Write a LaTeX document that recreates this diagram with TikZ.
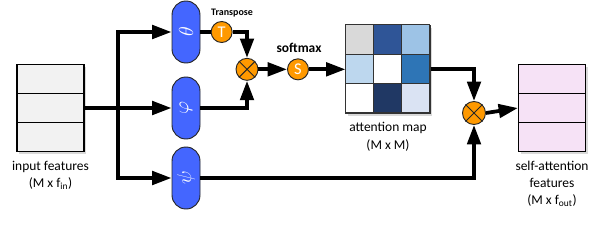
\documentclass[tikz,border=0pt]{standalone}
\usepackage{fontspec}
\setsansfont{Carlito}
\usetikzlibrary{arrows.meta,positioning,shadows,calc}
\definecolor{pillblue}{RGB}{68,102,255}
\definecolor{opsorange}{RGB}{255,153,0}
\definecolor{infill}{RGB}{242,242,242}
\definecolor{outfill}{RGB}{246,226,246}
\definecolor{cellA}{RGB}{217,217,217}
\definecolor{cellB}{RGB}{47,85,151}
\definecolor{cellC}{RGB}{157,195,230}
\definecolor{cellD}{RGB}{189,215,238}
\definecolor{cellE}{RGB}{255,255,255}
\definecolor{cellF}{RGB}{46,117,182}
\definecolor{cellG}{RGB}{255,255,255}
\definecolor{cellH}{RGB}{32,56,100}
\definecolor{cellI}{RGB}{218,227,243}

\begin{document}
\begin{tikzpicture}[
  conn/.style={line width=3.2pt, line join=miter, -{Triangle[length=5.8mm,width=4mm]}},
  wire/.style={line width=3.2pt},
  feat/.style={draw=black, line width=0.9pt, minimum width=2.01cm, minimum height=2.61cm, inner sep=0pt,
    drop shadow={opacity=0.3, shadow xshift=0.7mm, shadow yshift=-0.7mm}},
  pill/.style={draw=black!85, line width=0.8pt, fill=pillblue, rounded corners=0.42cm, minimum width=0.84cm,
    minimum height=1.86cm, inner sep=0pt, text=white, font=\fontsize{16}{18}\selectfont},
  op/.style={circle, draw=black!85, line width=0.8pt, fill=opsorange, minimum size=0.63cm, inner sep=0pt,
    text=white, font=\fontsize{14}{16}\selectfont\sffamily},
  lbl/.style={font=\fontsize{11.5}{14.8}\selectfont\sffamily, align=center, inner sep=1pt},
  oplbl/.style={font=\bfseries\sffamily, inner sep=1pt}
]
\useasboundingbox (0,0) rectangle (17.88,7.38);

% --- input / output features ---
\node[feat, fill=infill] (inp) at (1.515,4.14) {};
\node[lbl, below=2.2mm of inp] (inplbl) {input features\\(M x f\textsubscript{in})};
\node[feat, fill=outfill] (out) at (16.56,4.14) {};
\node[lbl, below=2.2mm of out] (outlbl) {self-attention\\features\\(M x f\textsubscript{out})};
\foreach \b in {inp,out}{
  \foreach \f in {1/3,2/3}{
    \draw[line width=0.9pt] ($(\b.north west)!\f!(\b.south west)$) -- ($(\b.north east)!\f!(\b.south east)$);
  }
}

% --- projections ---
\node[pill] (theta) at (5.58,6.42) {\rotatebox{90}{$\theta$}};
\node[pill] (phi) at (5.58,4.14) {\rotatebox{90}{$\varphi$}};
\node[pill] (psi) at (5.58,2.04) {\rotatebox{90}{$\psi$}};

% --- operators ---
\node[op] (tcirc) at (6.65,6.42) {T};
\node[oplbl, font=\fontsize{8.5}{10}\selectfont\bfseries\sffamily] (trlbl) at (6.96,6.99) {Transpose};
\node[op, minimum size=0.66cm] (m1) at (7.41,5.30) {};
\node[op] (scirc) at (8.94,5.30) {S};
\node[oplbl, font=\fontsize{11.5}{13}\selectfont\bfseries\sffamily] (smlbl) at (8.97,5.94) {softmax};
\node[op, minimum size=0.69cm] (m2) at (14.22,3.99) {};
\foreach \m in {m1,m2}{
  \draw[line width=0.8pt, black!85] (\m.north east) -- (\m.south west) (\m.north west) -- (\m.south east);
}

% --- attention map ---
\node[draw=black!80, line width=0.9pt, fill=white, minimum width=2.52cm, minimum height=2.64cm, inner sep=0pt,
  drop shadow={opacity=0.3, shadow xshift=0.7mm, shadow yshift=-0.7mm}] (amap) at (11.64,5.30) {};
\foreach \fc [count=\n from 0] in {cellA,cellB,cellC,cellD,cellE,cellF,cellG,cellH,cellI}{
  \pgfmathtruncatemacro\mrow{\n/3}
  \pgfmathtruncatemacro\mcol{mod(\n,3)}
  \draw[fill=\fc, draw=black!80, line width=0.8pt] ($(amap.north west)+(\mcol*0.84,-\mrow*0.88)$) rectangle ++(0.84,-0.88);
}
\node[lbl, below=2.2mm of amap] (amaplbl) {attention map\\(M x M)};

% --- connectors ---
\coordinate (split) at (3.54,4.14);
\draw[conn] (inp.east) -- (phi.west);
\draw[conn] (split) |- (theta.west);
\draw[conn] (split) |- (psi.west);
\draw[wire] (theta.east) -- (tcirc.west);
\draw[conn] (tcirc.east) -| (m1.north);
\draw[conn] (phi.east) -| (m1.south);
\draw[conn] (m1.east) -- (scirc.west);
\draw[conn] (scirc.east) -- (amap.west);
\draw[conn] (amap.east) -| (m2.north);
\draw[conn] (psi.east) -| (m2.south);
\draw[conn] (m2.east) -- (out.west);
\end{tikzpicture}
\end{document}
